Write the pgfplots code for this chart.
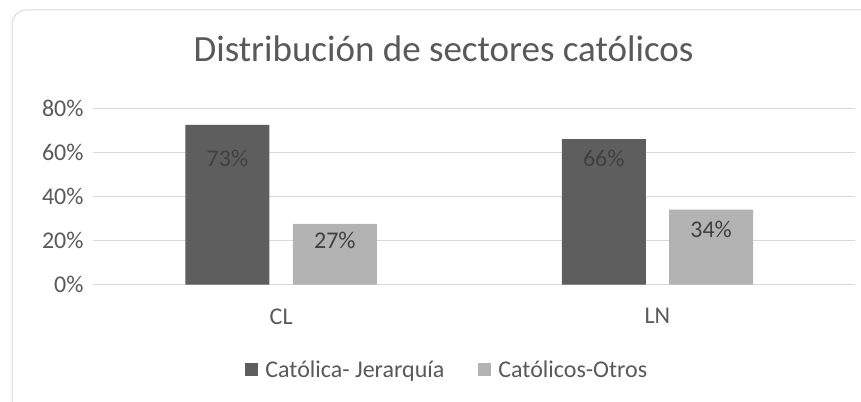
\documentclass[border=0pt]{standalone}
\usepackage{pgfplots}
\pgfplotsset{compat=1.18}
\usepackage{pgfplotstable}
\usepackage{fontspec}
\setmainfont{Carlito}
\definecolor{darkbar}{HTML}{5E5E5E}
\definecolor{lightbar}{HTML}{B3B3B3}
\definecolor{gridc}{HTML}{D9D9D9}
\definecolor{txt}{HTML}{595959}
\definecolor{lbl}{HTML}{404040}
\pgfplotstableread{
x y lab off
0 0.725 73 34
1 0.66 66 19
}\jerarquia
\pgfplotstableread{
x y lab off
0 0.275 27 16
1 0.34 34 20
}\otros
\begin{document}
\begin{tikzpicture}
\useasboundingbox (0,0) rectangle (861bp,402bp);
\clip (0,0) rectangle (861bp,402bp);
\fill[white] (0,0) rectangle (861bp,402bp);
\draw[gridc, line width=1bp, rounded corners=14bp] (12bp,-30bp) -- (12bp,392bp) -- (890bp,392bp);
\begin{axis}[
  at={(93bp,117.5bp)}, anchor=south west,
  scale only axis, width=762bp, height=176.2bp,
  ybar=23.4bp, bar width=84bp,
  xmin=-0.5, xmax=1.525,
  ymin=0, ymax=0.8,
  ytick={0,0.2,0.4,0.6,0.8},
  yticklabels={0\%,20\%,40\%,60\%,80\%},
  xtick={0,1}, xticklabels={CL,LN},
  axis line style={draw=none},
  major tick length=0pt,
  ymajorgrids, grid style={gridc, line width=1bp},
  /pgf/number format/assume math mode=true,
  tick label style={font=\fontsize{24bp}{28bp}\selectfont, text=txt},
  yticklabel style={inner sep=0pt, anchor=east, xshift=-9.3bp},
  xticklabel style={inner sep=0pt, anchor=north, yshift=-23.8bp},
  title={Distribución de sectores católicos},
  title style={at={(0.46,1.3036)}, anchor=center, font=\fontsize{37bp}{42bp}\selectfont, text=txt},
  legend columns=2,
  legend style={at={(0.465,-0.482)}, anchor=center, draw=none, fill=none,
    font=\fontsize{24bp}{28bp}\selectfont, text=txt,
    /tikz/every even column/.append style={column sep=32bp}},
  legend image code/.code={\fill[#1] (0bp,-6.5bp) rectangle (13bp,6.5bp); \path (18bp,0bp);},
  point meta=explicit,
  nodes near coords={\pgfmathprintnumber{\pgfplotspointmeta}\%},
  every node near coord/.append style={anchor=center, text=lbl, font=\fontsize{24bp}{28bp}\selectfont, yshift=-\off bp},
  visualization depends on={\thisrow{off} \as \off},
  clip=false,
]
\addplot[fill=darkbar, draw=none] table[x=x, y=y, meta=lab] {\jerarquia};
\addplot[fill=lightbar, draw=none] table[x=x, y=y, meta=lab] {\otros};
\legend{Católica- Jerarquía, Católicos-Otros}
\end{axis}
\end{tikzpicture}
\end{document}
